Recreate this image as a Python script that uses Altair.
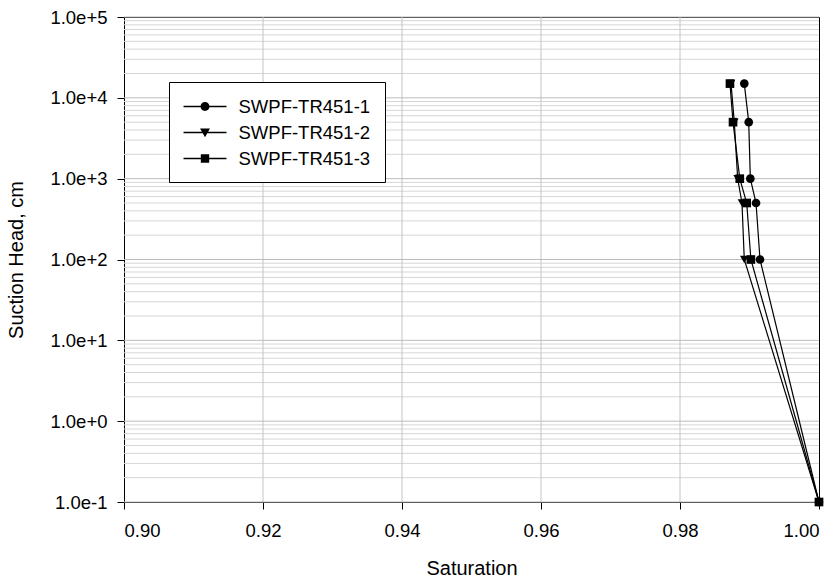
import altair as alt
import pandas as pd

# Suction head steps (cm) shared by every specimen, wettest point last
suction = [15000, 5000, 1000, 500, 100, 0.1]

series_names = ["SWPF-TR451-1", "SWPF-TR451-2", "SWPF-TR451-3"]
sat_1 = [0.98925, 0.98989, 0.99012, 0.99094, 0.99151, 1.0]
sat_2 = [0.98734, 0.98781, 0.98830, 0.98892, 0.98925, 1.0]
sat_3 = [0.98719, 0.98763, 0.98860, 0.98960, 0.99020, 1.0]

x_ticks = [0.90, 0.92, 0.94, 0.96, 0.98, 1.00]
x_grid = [0.92, 0.94, 0.96, 0.98]
y_ticks = [0.1, 1, 10, 100, 1000, 10000, 100000]
y_minor = [m * 10.0 ** e for e in range(-1, 5) for m in range(2, 10)]

FONT = "Liberation Sans"

rows = []
for name, sats in zip(series_names, [sat_1, sat_2, sat_3]):
    for step, (s, h) in enumerate(zip(sats, suction)):
        rows.append({"series": name, "saturation": s, "suction": h, "step": step})
df = pd.DataFrame(rows)

x_scale = alt.Scale(domain=[0.90, 1.00], nice=False, zero=False)
y_scale = alt.Scale(type="log", domain=[0.1, 100000], nice=False)

x_axis = alt.Axis(
    title="Saturation",
    values=x_ticks,
    format=".2f",
    grid=False,
    tickSize=7,
    labelPadding=12,
    titlePadding=19,
)
y_axis = alt.Axis(
    title="Suction Head, cm",
    values=y_ticks,
    format=".1e",
    grid=False,
    tickSize=7,
    labelPadding=10,
    titlePadding=23,
)

# Light minor grid (2..9 within each decade) and vertical grid at the labels
minor_grid = alt.Chart(pd.DataFrame({"v": y_minor})).mark_rule(
    color="#d6d6d6", strokeWidth=1
).encode(y=alt.Y("v:Q", scale=y_scale, axis=y_axis))

vert_grid = alt.Chart(pd.DataFrame({"v": x_grid})).mark_rule(
    color="#c4c4c4", strokeWidth=1
).encode(x=alt.X("v:Q", scale=x_scale, axis=x_axis))

major_grid = alt.Chart(pd.DataFrame({"v": y_ticks})).mark_rule(
    color="#bcbcbc", strokeWidth=1
).encode(y=alt.Y("v:Q", scale=y_scale, axis=y_axis))

base = alt.Chart(df).encode(
    x=alt.X("saturation:Q", scale=x_scale, axis=x_axis),
    y=alt.Y("suction:Q", scale=y_scale, axis=y_axis),
)

lines = base.mark_line(color="black", strokeWidth=1.2).encode(
    detail="series:N", order="step:Q"
)

shape_scale = alt.Scale(
    domain=series_names, range=["circle", "triangle-down", "square"]
)
points = base.mark_point(filled=True, color="black", opacity=1, size=75).encode(
    shape=alt.Shape("series:N", scale=shape_scale, legend=None)
)

# Legend entries: a thin bar either side of the marker, all filled
legend_paths = [
    "M-2.26,-0.07L-0.45,-0.07L-0.45,0.07L-2.26,0.07Z"
    "M0.45,-0.07L2.26,-0.07L2.26,0.07L0.45,0.07Z"
    "M0.47,0A0.47,0.47 0 1,1 -0.47,0A0.47,0.47 0 1,1 0.47,0Z",
    "M-2.26,-0.07L-0.27,-0.07L-0.27,0.07L-2.26,0.07Z"
    "M0.27,-0.07L2.26,-0.07L2.26,0.07L0.27,0.07Z"
    "M-0.52,-0.42L0.52,-0.42L0,0.5Z",
    "M-2.26,-0.07L-0.44,-0.07L-0.44,0.07L-2.26,0.07Z"
    "M0.44,-0.07L2.26,-0.07L2.26,0.07L0.44,0.07Z"
    "M-0.44,-0.44L0.44,-0.44L0.44,0.44L-0.44,0.44Z",
]
legend_layer = (
    alt.Chart(df)
    .transform_filter("false")
    .mark_point(filled=True, color="black", opacity=1)
    .encode(
        x=alt.X("saturation:Q", scale=x_scale, axis=x_axis),
        y=alt.Y("suction:Q", scale=y_scale, axis=y_axis),
        shape=alt.Shape(
            "series:N",
            scale=alt.Scale(domain=series_names, range=legend_paths),
            legend=alt.Legend(
                title=None,
                orient="none",
                legendX=45,
                legendY=65,
                padding=14,
                strokeColor="black",
                fillColor="white",
                symbolSize=361,
                symbolOffset=11.5,
                symbolFillColor="black",
                symbolOpacity=1,
                labelFont=FONT,
                labelFontSize=18.5,
                labelColor="black",
                labelOffset=23,
                rowPadding=6,
            ),
        ),
    )
)

chart = (
    alt.layer(minor_grid, vert_grid, major_grid, lines, points, legend_layer)
    .resolve_scale(shape="independent")
    .properties(
        width=695,
        height=485,
        autosize=alt.AutoSizeParams(type="none"),
        padding={"left": 124, "top": 17, "right": 20, "bottom": 83},
        background="white",
    )
    .configure_view(stroke="black", strokeWidth=1)
    .configure_axis(
        labelFont=FONT,
        titleFont=FONT,
        labelFontSize=18.5,
        titleFontSize=20,
        titleFontWeight="normal",
        labelColor="black",
        titleColor="black",
        tickColor="black",
        domainColor="black",
        domainWidth=1,
        tickWidth=1,
    )
)

chart.save("out.html", embed_options={"renderer": "svg", "actions": False})
